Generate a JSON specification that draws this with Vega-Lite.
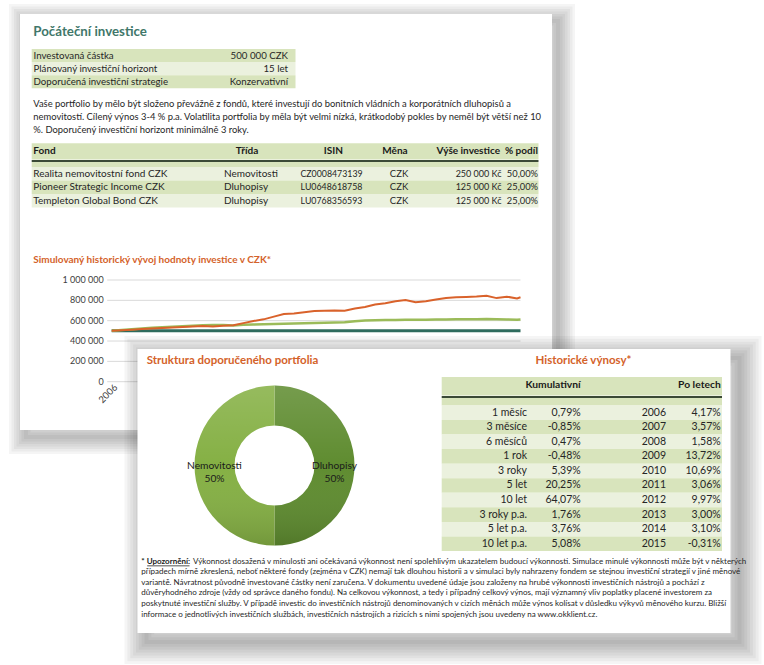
{
"$schema": "https://vega.github.io/schema/vega-lite/v6.json",
"width": 764, "height": 665, "autosize": {"type": "none"}, "padding": 0,
"background": "#ffffff",
"config": {"view": {"stroke": null}, "text": {"font": "Lato", "fontSize": 9.7, "color": "#262626", "baseline": "middle", "align": "left"}},
"datasets": {
"cards": [{"card": "A"}, {"card": "B"}],
"rings": [{"card": "A", "ring": 1}, {"card": "A", "ring": 2}, {"card": "A", "ring": 3}, {"card": "A", "ring": 4}, {"card": "A", "ring": 5}, {"card": "A", "ring": 6}, {"card": "A", "ring": 7},
{"card": "B", "ring": 1}, {"card": "B", "ring": 2}, {"card": "B", "ring": 3}, {"card": "B", "ring": 4}, {"card": "B", "ring": 5}, {"card": "B", "ring": 6}, {"card": "B", "ring": 7}, {"card": "B", "ring": 8}],
"titles": [{"id": "t1", "t": "Počáteční investice"}, {"id": "t2", "t": "Simulovaný historický vývoj hodnoty investice v CZK*"}, {"id": "t3", "t": "Struktura doporučeného portfolia"}, {"id": "t4", "t": "Historické výnosy*"}],
"kv": [{"r": "1", "label": "Investovaná částka", "value": "500 000 CZK", "shade": "dark"}, {"r": "2", "label": "Plánovaný investiční horizont", "value": "15 let", "shade": "light"}, {"r": "3", "label": "Doporučená investiční strategie", "value": "Konzervativní", "shade": "dark"}],
"para": [{"n": "1", "t": "Vaše portfolio by mělo být složeno převážně z fondů, které investují do bonitních vládních a korporátních dluhopisů a"}, {"n": "2", "t": "nemovitostí. Cílený výnos 3-4 % p.a. Volatilita portfolia by měla být velmi nízká, krátkodobý pokles by neměl být větší než 10"}, {"n": "3", "t": "%. Doporučený investiční horizont minimálně 3 roky."}],
"fundHead": [{"fond": "Fond", "trida": "Třída", "isin": "ISIN", "mena": "Měna", "vyse": "Výše investice", "podil": "% podíl"}],
"fund": [{"r": "1", "fond": "Realita nemovitostní fond CZK", "trida": "Nemovitosti", "isin": "CZ0008473139", "mena": "CZK", "vyse": "250 000 Kč", "podil": "50,00%", "shade": "light"}, {"r": "2", "fond": "Pioneer Strategic Income CZK", "trida": "Dluhopisy", "isin": "LU0648618758", "mena": "CZK", "vyse": "125 000 Kč", "podil": "25,00%", "shade": "dark"}, {"r": "3", "fond": "Templeton Global Bond CZK", "trida": "Dluhopisy", "isin": "LU0768356593", "mena": "CZK", "vyse": "125 000 Kč", "podil": "25,00%", "shade": "light"}],
"grid": [{"v": 0, "label": "0"}, {"v": 200000, "label": "200 000"}, {"v": 400000, "label": "400 000"}, {"v": 600000, "label": "600 000"}, {"v": 800000, "label": "800 000"}, {"v": 1000000, "label": "1 000 000"}],
"xlab": [{"d": "2006-01-01", "t": "2006"}],
"series": [
{"s": "V", "d": "2006-01-01", "v": 500000}, {"s": "V", "d": "2016-02-01", "v": 500000},
{"s": "S", "d": "2006-01-01", "v": 500000}, {"s": "S", "d": "2006-04-01", "v": 509000}, {"s": "S", "d": "2006-07-01", "v": 516000}, {"s": "S", "d": "2006-10-01", "v": 523000},
{"s": "S", "d": "2007-01-01", "v": 530000}, {"s": "S", "d": "2007-04-01", "v": 536000}, {"s": "S", "d": "2007-07-01", "v": 541000}, {"s": "S", "d": "2007-10-01", "v": 546000},
{"s": "S", "d": "2008-01-01", "v": 550000}, {"s": "S", "d": "2008-04-01", "v": 554000}, {"s": "S", "d": "2008-07-01", "v": 557000}, {"s": "S", "d": "2008-10-01", "v": 558000},
{"s": "S", "d": "2009-01-01", "v": 553000}, {"s": "S", "d": "2009-04-01", "v": 559000}, {"s": "S", "d": "2009-07-01", "v": 562000}, {"s": "S", "d": "2009-10-01", "v": 565000},
{"s": "S", "d": "2010-01-01", "v": 568000}, {"s": "S", "d": "2010-04-01", "v": 570000}, {"s": "S", "d": "2010-07-01", "v": 573000}, {"s": "S", "d": "2010-10-01", "v": 575000},
{"s": "S", "d": "2011-01-01", "v": 577000}, {"s": "S", "d": "2011-04-01", "v": 580000}, {"s": "S", "d": "2011-07-01", "v": 583000}, {"s": "S", "d": "2011-10-01", "v": 585000},
{"s": "S", "d": "2012-01-01", "v": 595000}, {"s": "S", "d": "2012-04-01", "v": 601000}, {"s": "S", "d": "2012-07-01", "v": 604000}, {"s": "S", "d": "2012-10-01", "v": 606000},
{"s": "S", "d": "2013-01-01", "v": 607000}, {"s": "S", "d": "2013-04-01", "v": 609000}, {"s": "S", "d": "2013-07-01", "v": 608000}, {"s": "S", "d": "2013-10-01", "v": 610000},
{"s": "S", "d": "2014-01-01", "v": 611000}, {"s": "S", "d": "2014-04-01", "v": 612000}, {"s": "S", "d": "2014-07-01", "v": 613000}, {"s": "S", "d": "2014-10-01", "v": 614000},
{"s": "S", "d": "2015-01-01", "v": 615000}, {"s": "S", "d": "2015-04-01", "v": 617000}, {"s": "S", "d": "2015-07-01", "v": 613000}, {"s": "S", "d": "2015-10-01", "v": 611000},
{"s": "S", "d": "2016-01-01", "v": 610000}, {"s": "S", "d": "2016-02-01", "v": 612000},
{"s": "P", "d": "2006-01-01", "v": 500000}, {"s": "P", "d": "2006-04-01", "v": 506000}, {"s": "P", "d": "2006-07-01", "v": 511000}, {"s": "P", "d": "2006-10-01", "v": 517000},
{"s": "P", "d": "2007-01-01", "v": 523000}, {"s": "P", "d": "2007-04-01", "v": 528000}, {"s": "P", "d": "2007-07-01", "v": 533000}, {"s": "P", "d": "2007-10-01", "v": 538000},
{"s": "P", "d": "2008-01-01", "v": 543000}, {"s": "P", "d": "2008-04-01", "v": 547000}, {"s": "P", "d": "2008-07-01", "v": 543000}, {"s": "P", "d": "2008-10-01", "v": 549000},
{"s": "P", "d": "2009-01-01", "v": 556000}, {"s": "P", "d": "2009-04-01", "v": 576000}, {"s": "P", "d": "2009-07-01", "v": 597000}, {"s": "P", "d": "2009-10-01", "v": 613000},
{"s": "P", "d": "2010-01-01", "v": 640000}, {"s": "P", "d": "2010-04-01", "v": 665000}, {"s": "P", "d": "2010-07-01", "v": 671000}, {"s": "P", "d": "2010-10-01", "v": 683000},
{"s": "P", "d": "2011-01-01", "v": 694000}, {"s": "P", "d": "2011-04-01", "v": 697000}, {"s": "P", "d": "2011-07-01", "v": 700000}, {"s": "P", "d": "2011-10-01", "v": 698000},
{"s": "P", "d": "2012-01-01", "v": 720000}, {"s": "P", "d": "2012-04-01", "v": 734000}, {"s": "P", "d": "2012-07-01", "v": 760000}, {"s": "P", "d": "2012-10-01", "v": 772000},
{"s": "P", "d": "2013-01-01", "v": 790000}, {"s": "P", "d": "2013-04-01", "v": 803000}, {"s": "P", "d": "2013-07-01", "v": 782000}, {"s": "P", "d": "2013-10-01", "v": 791000},
{"s": "P", "d": "2014-01-01", "v": 808000}, {"s": "P", "d": "2014-04-01", "v": 824000}, {"s": "P", "d": "2014-07-01", "v": 831000}, {"s": "P", "d": "2014-10-01", "v": 834000},
{"s": "P", "d": "2015-01-01", "v": 838000}, {"s": "P", "d": "2015-04-01", "v": 846000}, {"s": "P", "d": "2015-07-01", "v": 822000}, {"s": "P", "d": "2015-10-01", "v": 836000},
{"s": "P", "d": "2016-01-01", "v": 818000}, {"s": "P", "d": "2016-02-01", "v": 830000}
],
"donut": [{"cat": "Dluhopisy", "v": 50, "label": "Dluhopisy\n50%"}, {"cat": "Nemovitosti", "v": 50, "label": "Nemovitosti\n50%"}],
"retHead": [{"k": "Kumulativní", "p": "Po letech"}],
"ret": [
{"r": "1", "k": "1 měsíc", "kv": "0,79%", "y": "2006", "yv": "4,17%", "shade": "light"},
{"r": "2", "k": "3 měsíce", "kv": "-0,85%", "y": "2007", "yv": "3,57%", "shade": "dark"},
{"r": "3", "k": "6 měsíců", "kv": "0,47%", "y": "2008", "yv": "1,58%", "shade": "light"},
{"r": "4", "k": "1 rok", "kv": "-0,48%", "y": "2009", "yv": "13,72%", "shade": "dark"},
{"r": "5", "k": "3 roky", "kv": "5,39%", "y": "2010", "yv": "10,69%", "shade": "light"},
{"r": "6", "k": "5 let", "kv": "20,25%", "y": "2011", "yv": "3,06%", "shade": "dark"},
{"r": "7", "k": "10 let", "kv": "64,07%", "y": "2012", "yv": "9,97%", "shade": "light"},
{"r": "8", "k": "3 roky p.a.", "kv": "1,76%", "y": "2013", "yv": "3,00%", "shade": "dark"},
{"r": "9", "k": "5 let p.a.", "kv": "3,76%", "y": "2014", "yv": "3,10%", "shade": "light"},
{"r": "10", "k": "10 let p.a.", "kv": "5,08%", "y": "2015", "yv": "-0,31%", "shade": "dark"}
],
"foot": [
{"n": "1", "part": "b", "t": "* Upozornění:"},
{"n": "1", "part": "a", "t": "Výkonnost dosažená v minulosti ani očekávaná výkonnost není spolehlivým ukazatelem budoucí výkonnosti. Simulace minulé výkonnosti může být v některých"},
{"n": "2", "part": "n", "t": "případech mírně zkreslená, neboť některé fondy (zejména v CZK) nemají tak dlouhou historii a v simulaci byly nahrazeny fondem se stejnou investiční strategií v jiné měnové"},
{"n": "3", "part": "n", "t": "variantě. Návratnost původně investované částky není zaručena. V dokumentu uvedené údaje jsou založeny na hrubé výkonnosti investičních nástrojů a pochází z"},
{"n": "4", "part": "n", "t": "důvěryhodného zdroje (vždy od správce daného fondu). Na celkovou výkonnost, a tedy i případný celkový výnos, mají významný vliv poplatky placené investorem za"},
{"n": "5", "part": "n", "t": "poskytnuté investiční služby. V případě investic do investičních nástrojů denominovaných v cizích měnách může výnos kolísat v důsledku výkyvů měnového kurzu. Bližší"},
{"n": "6", "part": "n", "t": "informace o jednotlivých investičních službách, investičních nástrojích a rizicích s nimi spojených jsou uvedeny na www.okklient.cz."}
]
},
"layer": [
{"data": {"name": "rings"}, "transform": [{"filter": "datum.card==='A'"}], "mark": {"type": "rect", "fill": "transparent", "stroke": "#000000", "strokeOpacity": 0.04, "xOffset": 6, "yOffset": 7}, "encoding": {"x": {"field": "card", "type": "nominal", "scale": {"type": "band", "domain": ["A"], "range": [20, 552], "paddingInner": 0, "paddingOuter": 0}, "axis": null}, "y": {"field": "card", "type": "nominal", "scale": {"type": "band", "domain": ["A"], "range": [14, 430], "paddingInner": 0, "paddingOuter": 0}, "axis": null}, "strokeWidth": {"field": "ring", "type": "quantitative", "scale": {"domain": [1, 7], "range": [34, 4]}, "legend": null}}},
{"data": {"name": "cards"}, "transform": [{"filter": "datum.card==='A'"}], "mark": {"type": "rect", "fill": "#ffffff"}, "encoding": {"x": {"field": "card", "type": "nominal", "scale": {"type": "band", "domain": ["A"], "range": [20, 552], "paddingInner": 0, "paddingOuter": 0}, "axis": null}, "y": {"field": "card", "type": "nominal", "scale": {"type": "band", "domain": ["A"], "range": [14, 430], "paddingInner": 0, "paddingOuter": 0}, "axis": null}}},

{"data": {"name": "titles"}, "transform": [{"filter": "datum.id==='t1'"}], "mark": {"type": "text", "fontSize": 13.3, "fontWeight": "bold", "color": "#41776a"}, "encoding": {"x": {"field": "id", "type": "nominal", "scale": {"type": "point", "domain": ["t1"], "range": [33.3, 33.3], "padding": 0}, "axis": null}, "y": {"field": "id", "type": "nominal", "scale": {"type": "point", "domain": ["t1"], "range": [31.5, 31.5], "padding": 0}, "axis": null}, "text": {"field": "t"}}},

{"data": {"name": "kv"}, "mark": {"type": "rect"}, "encoding": {"x": {"datum": "kv", "type": "nominal", "scale": {"type": "band", "domain": ["kv"], "range": [31.7, 295.5], "paddingInner": 0, "paddingOuter": 0}, "axis": null}, "y": {"field": "r", "type": "nominal", "scale": {"type": "band", "domain": ["1", "2", "3"], "range": [49, 88.3], "paddingInner": 0, "paddingOuter": 0}, "axis": null}, "color": {"field": "shade", "type": "nominal", "scale": {"domain": ["dark", "light"], "range": ["#d8e4bc", "#ebf1de"]}, "legend": null}}},
{"data": {"name": "kv"}, "mark": {"type": "text", "align": "left"}, "encoding": {"x": {"datum": "l", "type": "nominal", "scale": {"type": "point", "domain": ["l"], "range": [33.5, 33.5], "padding": 0}, "axis": null}, "y": {"field": "r", "type": "nominal", "scale": {"type": "point", "domain": ["1", "2", "3"], "range": [56.2, 82.4], "padding": 0}, "axis": null}, "text": {"field": "label"}}},
{"data": {"name": "kv"}, "mark": {"type": "text", "align": "right"}, "encoding": {"x": {"datum": "v", "type": "nominal", "scale": {"type": "point", "domain": ["v"], "range": [288, 288], "padding": 0}, "axis": null}, "y": {"field": "r", "type": "nominal", "scale": {"type": "point", "domain": ["1", "2", "3"], "range": [56.2, 82.4], "padding": 0}, "axis": null}, "text": {"field": "value"}}},

{"data": {"name": "para"}, "mark": {"type": "text", "align": "left", "fontSize": 9.4}, "encoding": {"x": {"datum": "p", "type": "nominal", "scale": {"type": "point", "domain": ["p"], "range": [33.3, 33.3], "padding": 0}, "axis": null}, "y": {"field": "n", "type": "nominal", "scale": {"type": "point", "domain": ["1", "2", "3"], "range": [104, 129.5], "padding": 0}, "axis": null}, "text": {"field": "t"}}},

{"data": {"name": "fundHead"}, "mark": {"type": "rect", "fill": "#d8e4bc"}, "encoding": {"x": {"datum": "f", "type": "nominal", "scale": {"type": "band", "domain": ["f"], "range": [31.7, 538.5], "paddingInner": 0, "paddingOuter": 0}, "axis": null}, "y": {"datum": "h", "type": "nominal", "scale": {"type": "band", "domain": ["h"], "range": [143.3, 159.5], "paddingInner": 0, "paddingOuter": 0}, "axis": null}}},
{"data": {"name": "fundHead"}, "mark": {"type": "rect", "fill": "#3b4a36"}, "encoding": {"x": {"datum": "f", "type": "nominal", "scale": {"type": "band", "domain": ["f"], "range": [31.7, 538.5], "paddingInner": 0, "paddingOuter": 0}, "axis": null}, "y": {"datum": "h", "type": "nominal", "scale": {"type": "band", "domain": ["h"], "range": [160, 162], "paddingInner": 0, "paddingOuter": 0}, "axis": null}}},
{"data": {"name": "fundHead"}, "mark": {"type": "rect", "fill": "#d8e4bc"}, "encoding": {"x": {"datum": "f", "type": "nominal", "scale": {"type": "band", "domain": ["f"], "range": [31.7, 538.5], "paddingInner": 0, "paddingOuter": 0}, "axis": null}, "y": {"datum": "h", "type": "nominal", "scale": {"type": "band", "domain": ["h"], "range": [162, 167], "paddingInner": 0, "paddingOuter": 0}, "axis": null}}},
{"data": {"name": "fund"}, "mark": {"type": "rect"}, "encoding": {"x": {"datum": "f", "type": "nominal", "scale": {"type": "band", "domain": ["f"], "range": [31.7, 538.5], "paddingInner": 0, "paddingOuter": 0}, "axis": null}, "y": {"field": "r", "type": "nominal", "scale": {"type": "band", "domain": ["1", "2", "3"], "range": [167, 207.5], "paddingInner": 0, "paddingOuter": 0}, "axis": null}, "color": {"field": "shade", "type": "nominal", "scale": {"domain": ["dark", "light"], "range": ["#d8e4bc", "#ebf1de"]}, "legend": null}}},

{"data": {"name": "fundHead"}, "mark": {"type": "text", "align": "left", "fontSize": 10, "fontWeight": "bold", "color": "#1a1a1a"}, "encoding": {"x": {"datum": "c", "type": "nominal", "scale": {"type": "point", "domain": ["c"], "range": [33.3, 33.3], "padding": 0}, "axis": null}, "y": {"datum": "h", "type": "nominal", "scale": {"type": "point", "domain": ["h"], "range": [151.3, 151.3], "padding": 0}, "axis": null}, "text": {"field": "fond"}}},
{"data": {"name": "fundHead"}, "mark": {"type": "text", "align": "center", "fontSize": 10, "fontWeight": "bold", "color": "#1a1a1a"}, "encoding": {"x": {"datum": "c", "type": "nominal", "scale": {"type": "point", "domain": ["c"], "range": [247, 247], "padding": 0}, "axis": null}, "y": {"datum": "h", "type": "nominal", "scale": {"type": "point", "domain": ["h"], "range": [151.3, 151.3], "padding": 0}, "axis": null}, "text": {"field": "trida"}}},
{"data": {"name": "fundHead"}, "mark": {"type": "text", "align": "center", "fontSize": 10, "fontWeight": "bold", "color": "#1a1a1a"}, "encoding": {"x": {"datum": "c", "type": "nominal", "scale": {"type": "point", "domain": ["c"], "range": [333.3, 333.3], "padding": 0}, "axis": null}, "y": {"datum": "h", "type": "nominal", "scale": {"type": "point", "domain": ["h"], "range": [151.3, 151.3], "padding": 0}, "axis": null}, "text": {"field": "isin"}}},
{"data": {"name": "fundHead"}, "mark": {"type": "text", "align": "center", "fontSize": 10, "fontWeight": "bold", "color": "#1a1a1a"}, "encoding": {"x": {"datum": "c", "type": "nominal", "scale": {"type": "point", "domain": ["c"], "range": [395, 395], "padding": 0}, "axis": null}, "y": {"datum": "h", "type": "nominal", "scale": {"type": "point", "domain": ["h"], "range": [151.3, 151.3], "padding": 0}, "axis": null}, "text": {"field": "mena"}}},
{"data": {"name": "fundHead"}, "mark": {"type": "text", "align": "right", "fontSize": 10, "fontWeight": "bold", "color": "#1a1a1a"}, "encoding": {"x": {"datum": "c", "type": "nominal", "scale": {"type": "point", "domain": ["c"], "range": [500, 500], "padding": 0}, "axis": null}, "y": {"datum": "h", "type": "nominal", "scale": {"type": "point", "domain": ["h"], "range": [151.3, 151.3], "padding": 0}, "axis": null}, "text": {"field": "vyse"}}},
{"data": {"name": "fundHead"}, "mark": {"type": "text", "align": "right", "fontSize": 10, "fontWeight": "bold", "color": "#1a1a1a"}, "encoding": {"x": {"datum": "c", "type": "nominal", "scale": {"type": "point", "domain": ["c"], "range": [538, 538], "padding": 0}, "axis": null}, "y": {"datum": "h", "type": "nominal", "scale": {"type": "point", "domain": ["h"], "range": [151.3, 151.3], "padding": 0}, "axis": null}, "text": {"field": "podil"}}},

{"data": {"name": "fund"}, "mark": {"type": "text", "align": "left", "fontSize": 10}, "encoding": {"x": {"datum": "c", "type": "nominal", "scale": {"type": "point", "domain": ["c"], "range": [33.3, 33.3], "padding": 0}, "axis": null}, "y": {"field": "r", "type": "nominal", "scale": {"type": "point", "domain": ["1", "2", "3"], "range": [173.9, 201], "padding": 0}, "axis": null}, "text": {"field": "fond"}}},
{"data": {"name": "fund"}, "mark": {"type": "text", "align": "left", "fontSize": 10}, "encoding": {"x": {"datum": "c", "type": "nominal", "scale": {"type": "point", "domain": ["c"], "range": [224, 224], "padding": 0}, "axis": null}, "y": {"field": "r", "type": "nominal", "scale": {"type": "point", "domain": ["1", "2", "3"], "range": [173.9, 201], "padding": 0}, "axis": null}, "text": {"field": "trida"}}},
{"data": {"name": "fund"}, "mark": {"type": "text", "align": "center", "fontSize": 8.8}, "encoding": {"x": {"datum": "c", "type": "nominal", "scale": {"type": "point", "domain": ["c"], "range": [331.5, 331.5], "padding": 0}, "axis": null}, "y": {"field": "r", "type": "nominal", "scale": {"type": "point", "domain": ["1", "2", "3"], "range": [173.9, 201], "padding": 0}, "axis": null}, "text": {"field": "isin"}}},
{"data": {"name": "fund"}, "mark": {"type": "text", "align": "center", "fontSize": 9.5}, "encoding": {"x": {"datum": "c", "type": "nominal", "scale": {"type": "point", "domain": ["c"], "range": [399, 399], "padding": 0}, "axis": null}, "y": {"field": "r", "type": "nominal", "scale": {"type": "point", "domain": ["1", "2", "3"], "range": [173.9, 201], "padding": 0}, "axis": null}, "text": {"field": "mena"}}},
{"data": {"name": "fund"}, "mark": {"type": "text", "align": "right", "fontSize": 9}, "encoding": {"x": {"datum": "c", "type": "nominal", "scale": {"type": "point", "domain": ["c"], "range": [501.5, 501.5], "padding": 0}, "axis": null}, "y": {"field": "r", "type": "nominal", "scale": {"type": "point", "domain": ["1", "2", "3"], "range": [173.9, 201], "padding": 0}, "axis": null}, "text": {"field": "vyse"}}},
{"data": {"name": "fund"}, "mark": {"type": "text", "align": "right", "fontSize": 9.3}, "encoding": {"x": {"datum": "c", "type": "nominal", "scale": {"type": "point", "domain": ["c"], "range": [538, 538], "padding": 0}, "axis": null}, "y": {"field": "r", "type": "nominal", "scale": {"type": "point", "domain": ["1", "2", "3"], "range": [173.9, 201], "padding": 0}, "axis": null}, "text": {"field": "podil"}}},

{"data": {"name": "titles"}, "transform": [{"filter": "datum.id==='t2'"}], "mark": {"type": "text", "fontSize": 10, "fontWeight": "bold", "color": "#d4622a"}, "encoding": {"x": {"field": "id", "type": "nominal", "scale": {"type": "point", "domain": ["t2"], "range": [33.3, 33.3], "padding": 0}, "axis": null}, "y": {"field": "id", "type": "nominal", "scale": {"type": "point", "domain": ["t2"], "range": [259.5, 259.5], "padding": 0}, "axis": null}, "text": {"field": "t"}}},

{"data": {"name": "grid"}, "mark": {"type": "rule", "color": "#d9d9d9", "strokeWidth": 1, "xOffset": -4.5}, "encoding": {"x": {"datum": {"year": 2006, "month": 1, "date": 1, "utc": true}, "type": "temporal", "scale": {"type": "time", "domain": [{"year": 2006, "month": 1, "date": 1, "utc": true}, {"year": 2016, "month": 2, "date": 1, "utc": true}], "range": [111.7, 520.5], "nice": false}, "axis": null}, "x2": {"datum": {"year": 2016, "month": 2, "date": 1, "utc": true}}, "y": {"field": "v", "type": "quantitative", "scale": {"type": "linear", "domain": [0, 1000000], "range": [381.7, 280], "nice": false, "zero": false}, "axis": null}}},
{"data": {"name": "grid"}, "mark": {"type": "text", "align": "right", "fontSize": 9, "color": "#404040", "dx": -8}, "encoding": {"x": {"datum": {"year": 2006, "month": 1, "date": 1, "utc": true}, "type": "temporal", "scale": {"type": "time", "domain": [{"year": 2006, "month": 1, "date": 1, "utc": true}, {"year": 2016, "month": 2, "date": 1, "utc": true}], "range": [111.7, 520.5], "nice": false}, "axis": null}, "y": {"field": "v", "type": "quantitative", "scale": {"type": "linear", "domain": [0, 1000000], "range": [381.7, 280], "nice": false, "zero": false}, "axis": null}, "text": {"field": "label"}}},
{"data": {"name": "xlab"}, "mark": {"type": "text", "align": "right", "angle": 315, "fontSize": 9.5, "color": "#404040", "dy": 6}, "encoding": {"x": {"field": "d", "type": "temporal", "scale": {"type": "time", "domain": [{"year": 2006, "month": 1, "date": 1, "utc": true}, {"year": 2016, "month": 2, "date": 1, "utc": true}], "range": [111.7, 520.5], "nice": false}, "axis": null}, "y": {"datum": 0, "type": "quantitative", "scale": {"type": "linear", "domain": [0, 1000000], "range": [381.7, 280], "nice": false, "zero": false}, "axis": null}, "text": {"field": "t"}}},
{"data": {"name": "series"}, "transform": [{"filter": "datum.s==='V'"}], "mark": {"type": "line", "color": "#2e6b5d", "strokeWidth": 3}, "encoding": {"x": {"field": "d", "type": "temporal", "scale": {"type": "time", "domain": [{"year": 2006, "month": 1, "date": 1, "utc": true}, {"year": 2016, "month": 2, "date": 1, "utc": true}], "range": [111.7, 520.5], "nice": false}, "axis": null}, "y": {"field": "v", "type": "quantitative", "scale": {"type": "linear", "domain": [0, 1000000], "range": [381.7, 280], "nice": false, "zero": false}, "axis": null}}},
{"data": {"name": "series"}, "transform": [{"filter": "datum.s==='S'"}], "mark": {"type": "line", "color": "#9bbb59", "strokeWidth": 2.5}, "encoding": {"x": {"field": "d", "type": "temporal", "scale": {"type": "time", "domain": [{"year": 2006, "month": 1, "date": 1, "utc": true}, {"year": 2016, "month": 2, "date": 1, "utc": true}], "range": [111.7, 520.5], "nice": false}, "axis": null}, "y": {"field": "v", "type": "quantitative", "scale": {"type": "linear", "domain": [0, 1000000], "range": [381.7, 280], "nice": false, "zero": false}, "axis": null}}},
{"data": {"name": "series"}, "transform": [{"filter": "datum.s==='P'"}], "mark": {"type": "line", "color": "#d9622b", "strokeWidth": 2}, "encoding": {"x": {"field": "d", "type": "temporal", "scale": {"type": "time", "domain": [{"year": 2006, "month": 1, "date": 1, "utc": true}, {"year": 2016, "month": 2, "date": 1, "utc": true}], "range": [111.7, 520.5], "nice": false}, "axis": null}, "y": {"field": "v", "type": "quantitative", "scale": {"type": "linear", "domain": [0, 1000000], "range": [381.7, 280], "nice": false, "zero": false}, "axis": null}}},

{"data": {"name": "rings"}, "transform": [{"filter": "datum.card==='B'"}], "mark": {"type": "rect", "fill": "transparent", "stroke": "#000000", "strokeOpacity": 0.04, "xOffset": 9, "yOffset": 9}, "encoding": {"x": {"field": "card", "type": "nominal", "scale": {"type": "band", "domain": ["B"], "range": [137.5, 730.5], "paddingInner": 0, "paddingOuter": 0}, "axis": null}, "y": {"field": "card", "type": "nominal", "scale": {"type": "band", "domain": ["B"], "range": [349, 633], "paddingInner": 0, "paddingOuter": 0}, "axis": null}, "strokeWidth": {"field": "ring", "type": "quantitative", "scale": {"domain": [1, 8], "range": [44, 4]}, "legend": null}}},
{"data": {"name": "cards"}, "transform": [{"filter": "datum.card==='B'"}], "mark": {"type": "rect", "fill": "#ffffff"}, "encoding": {"x": {"field": "card", "type": "nominal", "scale": {"type": "band", "domain": ["B"], "range": [137.5, 730.5], "paddingInner": 0, "paddingOuter": 0}, "axis": null}, "y": {"field": "card", "type": "nominal", "scale": {"type": "band", "domain": ["B"], "range": [349, 633], "paddingInner": 0, "paddingOuter": 0}, "axis": null}}},

{"data": {"name": "titles"}, "transform": [{"filter": "datum.id==='t3'"}], "mark": {"type": "text", "fontSize": 11.5, "fontWeight": "bold", "color": "#d4622a"}, "encoding": {"x": {"field": "id", "type": "nominal", "scale": {"type": "point", "domain": ["t3"], "range": [146.7, 146.7], "padding": 0}, "axis": null}, "y": {"field": "id", "type": "nominal", "scale": {"type": "point", "domain": ["t3"], "range": [360.7, 360.7], "padding": 0}, "axis": null}, "text": {"field": "t"}}},
{"data": {"name": "titles"}, "transform": [{"filter": "datum.id==='t4'"}], "mark": {"type": "text", "align": "center", "fontSize": 11.5, "fontWeight": "bold", "color": "#d4622a"}, "encoding": {"x": {"field": "id", "type": "nominal", "scale": {"type": "point", "domain": ["t4"], "range": [583.5, 583.5], "padding": 0}, "axis": null}, "y": {"field": "id", "type": "nominal", "scale": {"type": "point", "domain": ["t4"], "range": [361, 361], "padding": 0}, "axis": null}, "text": {"field": "t"}}},

{"data": {"name": "donut"}, "mark": {"type": "arc", "innerRadius": 40, "outerRadius": 80}, "encoding": {"theta": {"field": "v", "type": "quantitative", "stack": true}, "order": {"field": "cat", "sort": "ascending"}, "color": {"field": "cat", "type": "nominal", "scale": {"domain": ["Dluhopisy", "Nemovitosti"], "range": ["#5f8c30", "#85b044"]}, "legend": null}, "x": {"datum": "c", "type": "nominal", "scale": {"type": "point", "domain": ["c"], "range": [274.5, 274.5], "padding": 0}, "axis": null}, "y": {"datum": "c", "type": "nominal", "scale": {"type": "point", "domain": ["c"], "range": [465.5, 465.5], "padding": 0}, "axis": null}}},
{"data": {"name": "donut"}, "mark": {"type": "arc", "innerRadius": 40, "outerRadius": 80, "fill": {"gradient": "linear", "x1": 0, "y1": 0, "x2": 0, "y2": 1, "stops": [{"offset": 0, "color": "rgba(255,255,255,0.14)"}, {"offset": 0.5, "color": "rgba(255,255,255,0)"}, {"offset": 1, "color": "rgba(0,0,0,0.14)"}]}}, "encoding": {"theta": {"field": "v", "type": "quantitative", "stack": true}, "order": {"field": "cat", "sort": "ascending"}, "detail": {"field": "cat", "type": "nominal"}, "x": {"datum": "c", "type": "nominal", "scale": {"type": "point", "domain": ["c"], "range": [274.5, 274.5], "padding": 0}, "axis": null}, "y": {"datum": "c", "type": "nominal", "scale": {"type": "point", "domain": ["c"], "range": [465.5, 465.5], "padding": 0}, "axis": null}}},
{"data": {"name": "donut"}, "mark": {"type": "text", "radius": 60, "lineBreak": "\n", "lineHeight": 13.4, "fontSize": 10.2, "align": "center", "color": "#1a1a1a"}, "encoding": {"theta": {"field": "v", "type": "quantitative", "stack": true}, "order": {"field": "cat", "sort": "ascending"}, "detail": {"field": "cat", "type": "nominal"}, "x": {"datum": "c", "type": "nominal", "scale": {"type": "point", "domain": ["c"], "range": [274.5, 274.5], "padding": 0}, "axis": null}, "y": {"datum": "c", "type": "nominal", "scale": {"type": "point", "domain": ["c"], "range": [465.5, 465.5], "padding": 0}, "axis": null}, "text": {"field": "label"}}},

{"data": {"name": "retHead"}, "mark": {"type": "rect", "fill": "#d8e4bc"}, "encoding": {"x": {"datum": "t", "type": "nominal", "scale": {"type": "band", "domain": ["t"], "range": [441.7, 722], "paddingInner": 0, "paddingOuter": 0}, "axis": null}, "y": {"datum": "h", "type": "nominal", "scale": {"type": "band", "domain": ["h"], "range": [377, 395.5], "paddingInner": 0, "paddingOuter": 0}, "axis": null}}},
{"data": {"name": "retHead"}, "mark": {"type": "rect", "fill": "#3b4a36"}, "encoding": {"x": {"datum": "t", "type": "nominal", "scale": {"type": "band", "domain": ["t"], "range": [441.7, 722], "paddingInner": 0, "paddingOuter": 0}, "axis": null}, "y": {"datum": "h", "type": "nominal", "scale": {"type": "band", "domain": ["h"], "range": [396, 398], "paddingInner": 0, "paddingOuter": 0}, "axis": null}}},
{"data": {"name": "retHead"}, "mark": {"type": "rect", "fill": "#d8e4bc"}, "encoding": {"x": {"datum": "t", "type": "nominal", "scale": {"type": "band", "domain": ["t"], "range": [441.7, 722], "paddingInner": 0, "paddingOuter": 0}, "axis": null}, "y": {"datum": "h", "type": "nominal", "scale": {"type": "band", "domain": ["h"], "range": [398, 405.4], "paddingInner": 0, "paddingOuter": 0}, "axis": null}}},
{"data": {"name": "ret"}, "mark": {"type": "rect"}, "encoding": {"x": {"datum": "t", "type": "nominal", "scale": {"type": "band", "domain": ["t"], "range": [441.7, 722], "paddingInner": 0, "paddingOuter": 0}, "axis": null}, "y": {"field": "r", "type": "nominal", "scale": {"type": "band", "domain": ["1", "2", "3", "4", "5", "6", "7", "8", "9", "10"], "range": [405.4, 551], "paddingInner": 0, "paddingOuter": 0}, "axis": null}, "color": {"field": "shade", "type": "nominal", "scale": {"domain": ["dark", "light"], "range": ["#d8e4bc", "#ebf1de"]}, "legend": null}}},

{"data": {"name": "retHead"}, "mark": {"type": "text", "align": "right", "fontSize": 10.3, "fontWeight": "bold", "color": "#1a1a1a"}, "encoding": {"x": {"datum": "c", "type": "nominal", "scale": {"type": "point", "domain": ["c"], "range": [580.7, 580.7], "padding": 0}, "axis": null}, "y": {"datum": "h", "type": "nominal", "scale": {"type": "point", "domain": ["h"], "range": [384.5, 384.5], "padding": 0}, "axis": null}, "text": {"field": "k"}}},
{"data": {"name": "retHead"}, "mark": {"type": "text", "align": "right", "fontSize": 10.3, "fontWeight": "bold", "color": "#1a1a1a"}, "encoding": {"x": {"datum": "c", "type": "nominal", "scale": {"type": "point", "domain": ["c"], "range": [720.7, 720.7], "padding": 0}, "axis": null}, "y": {"datum": "h", "type": "nominal", "scale": {"type": "point", "domain": ["h"], "range": [384.5, 384.5], "padding": 0}, "axis": null}, "text": {"field": "p"}}},

{"data": {"name": "ret"}, "mark": {"type": "text", "align": "right", "fontSize": 10.5}, "encoding": {"x": {"datum": "c", "type": "nominal", "scale": {"type": "point", "domain": ["c"], "range": [527, 527], "padding": 0}, "axis": null}, "y": {"field": "r", "type": "nominal", "scale": {"type": "point", "domain": ["1", "2", "3", "4", "5", "6", "7", "8", "9", "10"], "range": [412.7, 543.7], "padding": 0}, "axis": null}, "text": {"field": "k"}}},
{"data": {"name": "ret"}, "mark": {"type": "text", "align": "right", "fontSize": 10.5}, "encoding": {"x": {"datum": "c", "type": "nominal", "scale": {"type": "point", "domain": ["c"], "range": [580.7, 580.7], "padding": 0}, "axis": null}, "y": {"field": "r", "type": "nominal", "scale": {"type": "point", "domain": ["1", "2", "3", "4", "5", "6", "7", "8", "9", "10"], "range": [412.7, 543.7], "padding": 0}, "axis": null}, "text": {"field": "kv"}}},
{"data": {"name": "ret"}, "mark": {"type": "text", "align": "right", "fontSize": 10.5}, "encoding": {"x": {"datum": "c", "type": "nominal", "scale": {"type": "point", "domain": ["c"], "range": [666, 666], "padding": 0}, "axis": null}, "y": {"field": "r", "type": "nominal", "scale": {"type": "point", "domain": ["1", "2", "3", "4", "5", "6", "7", "8", "9", "10"], "range": [412.7, 543.7], "padding": 0}, "axis": null}, "text": {"field": "y"}}},
{"data": {"name": "ret"}, "mark": {"type": "text", "align": "right", "fontSize": 10.5}, "encoding": {"x": {"datum": "c", "type": "nominal", "scale": {"type": "point", "domain": ["c"], "range": [720.7, 720.7], "padding": 0}, "axis": null}, "y": {"field": "r", "type": "nominal", "scale": {"type": "point", "domain": ["1", "2", "3", "4", "5", "6", "7", "8", "9", "10"], "range": [412.7, 543.7], "padding": 0}, "axis": null}, "text": {"field": "yv"}}},

{"data": {"name": "foot"}, "transform": [{"filter": "datum.part==='b'"}], "mark": {"type": "text", "align": "left", "fontSize": 8, "fontWeight": "bold", "color": "#1a1a1a"}, "encoding": {"x": {"datum": "c", "type": "nominal", "scale": {"type": "point", "domain": ["c"], "range": [141.3, 141.3], "padding": 0}, "axis": null}, "y": {"field": "n", "type": "nominal", "scale": {"type": "point", "domain": ["1", "2", "3", "4", "5", "6"], "range": [561.5, 614.5], "padding": 0}, "axis": null}, "text": {"field": "t"}}},
{"data": {"name": "foot"}, "transform": [{"filter": "datum.part==='b'"}], "mark": {"type": "rect", "fill": "#1a1a1a"}, "encoding": {"x": {"datum": "u", "type": "nominal", "scale": {"type": "band", "domain": ["u"], "range": [147.2, 189.5], "paddingInner": 0, "paddingOuter": 0}, "axis": null}, "y": {"datum": "u", "type": "nominal", "scale": {"type": "band", "domain": ["u"], "range": [565.6, 566.3], "paddingInner": 0, "paddingOuter": 0}, "axis": null}}},
{"data": {"name": "foot"}, "transform": [{"filter": "datum.part==='a'"}], "mark": {"type": "text", "align": "left", "fontSize": 8}, "encoding": {"x": {"datum": "c", "type": "nominal", "scale": {"type": "point", "domain": ["c"], "range": [193, 193], "padding": 0}, "axis": null}, "y": {"field": "n", "type": "nominal", "scale": {"type": "point", "domain": ["1", "2", "3", "4", "5", "6"], "range": [561.5, 614.5], "padding": 0}, "axis": null}, "text": {"field": "t"}}},
{"data": {"name": "foot"}, "transform": [{"filter": "datum.part==='n'"}], "mark": {"type": "text", "align": "left", "fontSize": 8}, "encoding": {"x": {"datum": "c", "type": "nominal", "scale": {"type": "point", "domain": ["c"], "range": [141.3, 141.3], "padding": 0}, "axis": null}, "y": {"field": "n", "type": "nominal", "scale": {"type": "point", "domain": ["1", "2", "3", "4", "5", "6"], "range": [561.5, 614.5], "padding": 0}, "axis": null}, "text": {"field": "t"}}}
],
"resolve": {"scale": {"x": "independent", "y": "independent", "color": "independent", "theta": "independent", "strokeWidth": "independent"}}
}
